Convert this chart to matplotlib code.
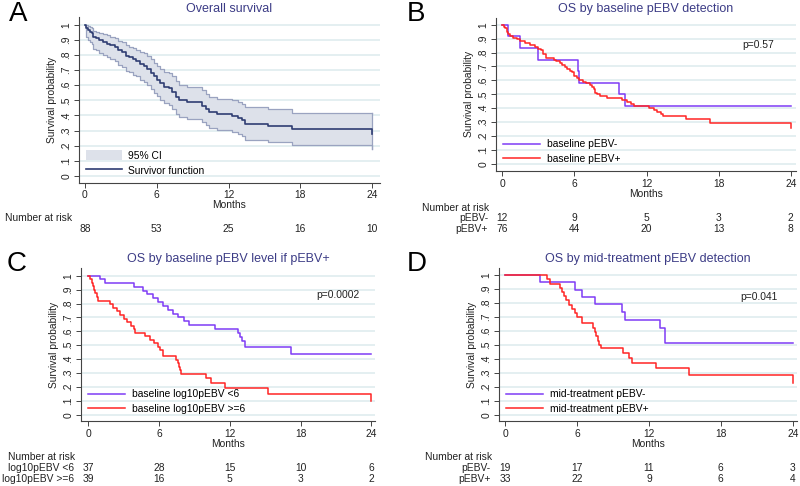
import matplotlib
matplotlib.use("Agg")
import matplotlib.pyplot as plt
from matplotlib.patches import Patch
from matplotlib.lines import Line2D
import matplotlib.transforms as mtransforms

plt.rcParams['font.family'] = ['Liberation Sans', 'DejaVu Sans']

# ---------------- DATA ----------------
# Panel A: overall survival (KM step values) with 95% CI
a_time = [0, 0.1, 0.25, 0.4, 0.55, 0.7, 0.9, 1.2, 1.5, 1.8, 2.1, 2.5, 2.8, 3.1, 3.4, 3.7, 4.0, 4.3, 4.6, 4.9,
          5.2, 5.5, 5.8, 6.0, 6.3, 6.6, 7.0, 7.3, 7.6, 7.9, 8.5, 9.8, 10.1, 10.4, 11.0, 12.3, 12.8, 13.1, 13.4,
          15.3, 17.3, 24.0]
a_surv = [1, .98, .966, .955, .943, .92, .909, .898, .886, .875, .864, .852, .83, .818, .795, .784, .773, .761, .739, .727,
          .705, .682, .659, .636, .614, .591, .58, .557, .523, .50, .488, .465, .443, .42, .409, .397, .384, .37, .346,
          .33, .31, .28]
a_lower = [1, .92, .90, .885, .87, .84, .83, .815, .80, .785, .77, .76, .735, .72, .695, .685, .67, .66, .635, .62,
           .60, .575, .55, .53, .505, .48, .47, .445, .41, .39, .38, .355, .335, .315, .305, .29, .28, .265, .24,
           .225, .207, .18]
a_upper = [1, .995, .99, .985, .978, .96, .955, .945, .94, .93, .92, .91, .895, .885, .865, .855, .845, .835, .82, .81,
           .79, .77, .75, .73, .71, .69, .68, .66, .625, .60, .59, .57, .545, .52, .51, .50, .49, .475, .455,
           .44, .418, .418]
a_risk = [88, 53, 25, 16, 10]

# Panel B: by baseline pEBV detection
b_neg_time = [0, 0.5, 1.5, 2.95, 6.3, 6.4, 9.75, 10.2, 24.0]
b_neg_surv = [1, .917, .833, .75, .667, .583, .5, .417, .417]
b_pos_time = [0, 0.1, 0.2, 0.35, 0.5, 0.6, 0.9, 1.2, 1.5, 1.9, 2.3, 2.7, 3.0, 3.2, 3.4, 3.6, 4.3, 4.5, 4.8, 5.0,
              5.2, 5.4, 5.6, 5.8, 6.0, 6.2, 6.4, 6.7, 7.0, 7.3, 7.5, 7.6, 7.75, 7.9, 8.1, 8.7, 10.0, 10.4, 10.7,
              11.0, 12.2, 12.6, 12.9, 13.2, 13.4, 15.3, 17.3, 24.0]
b_pos_surv = [1, .987, .974, .947, .934, .921, .908, .895, .882, .868, .855, .842, .829, .816, .789, .763, .75, .737, .724, .711,
              .697, .684, .671, .658, .632, .618, .605, .592, .579, .566, .553, .539, .513, .50, .486, .472, .458, .444, .43,
              .416, .402, .387, .372, .357, .342, .32, .297, .26]
b_risk_neg = [12, 9, 5, 3, 2]
b_risk_pos = [76, 44, 20, 13, 8]

# Panel C: by baseline pEBV level if pEBV+
c_low_time = [0, 0.95, 1.45, 3.85, 4.6, 5.0, 5.5, 5.9, 6.3, 6.8, 7.2, 7.6, 8.1, 8.5, 10.75, 12.7, 12.85, 13.05, 13.3, 17.2, 24.0]
c_low_surv = [1, .973, .946, .919, .892, .865, .838, .811, .781, .751, .722, .70, .676, .648, .618, .588, .559, .53, .485, .44, .44]
c_high_time = [0, 0.15, 0.3, 0.4, 0.5, 0.6, 0.7, 0.85, 1.8, 2.1, 2.4, 2.7, 3.0, 3.3, 3.6, 3.9, 4.0, 4.8, 5.2, 5.6,
               5.9, 6.1, 6.3, 7.4, 7.6, 7.7, 7.8, 7.9, 10.0, 10.4, 11.6, 15.2, 24.0]
c_high_surv = [1, .974, .949, .923, .897, .872, .846, .821, .795, .769, .744, .718, .692, .667, .641, .615, .59, .564, .538, .513,
               .487, .462, .423, .397, .372, .346, .321, .295, .266, .228, .19, .15, .10]
c_risk_low = [37, 28, 15, 10, 6]
c_risk_high = [39, 16, 5, 3, 2]

# Panel D: by mid-treatment pEBV detection
d_neg_time = [0, 2.9, 5.82, 6.4, 7.45, 9.75, 10.0, 12.9, 13.3, 24.0]
d_neg_surv = [1, .947, .895, .842, .789, .737, .68, .62, .515, .515]
d_pos_time = [0, 3.45, 3.7, 4.55, 4.7, 4.9, 5.1, 5.3, 5.6, 5.8, 6.0, 6.4, 7.35, 7.45, 7.55, 7.7, 7.85, 7.95,
              9.85, 10.3, 10.6, 12.6, 15.3, 24.0]
d_pos_surv = [1, .97, .939, .909, .879, .848, .818, .788, .758, .727, .697, .657, .621, .591, .56, .53, .50, .478,
              .442, .406, .37, .334, .287, .227]
d_risk_neg = [19, 17, 11, 6, 3]
d_risk_pos = [33, 22, 9, 6, 4]

xticks = [0, 6, 12, 18, 24]
yticks = [0, .1, .2, .3, .4, .5, .6, .7, .8, .9, 1]
ytick_labels = ['0', '.1', '.2', '.3', '.4', '.5', '.6', '.7', '.8', '.9', '1']

# ---------------- STYLE ----------------
NAVY = '#2f3d72'
BAND = '#dde1ea'
BAND_EDGE = '#9aa3c0'
PURPLE = '#7f3cf5'
RED = '#ff2525'
TITLE_C = '#3c3c86'
GRID_C = '#dcebee'
TXT = '#222222'
FS = 7.4

W, H = 800, 486
fig = plt.figure(figsize=(8, 4.86), dpi=100)


def add_panel(l, t, r, b, x0px, x24px, y0px, y1px):
    ax = fig.add_axes([l / W, 1 - b / H, (r - l) / W, (b - t) / H])
    sx = (x24px - x0px) / 24.0
    sy = (y0px - y1px)
    ax.set_xlim((l - x0px) / sx, (r - x0px) / sx)
    ax.set_ylim((y0px - b) / sy, (y0px - t) / sy)
    for s in ['top', 'right']:
        ax.spines[s].set_visible(False)
    for s in ['left', 'bottom']:
        ax.spines[s].set_color('#444444')
        ax.spines[s].set_linewidth(0.8)
    ax.set_xticks(xticks)
    ax.set_yticks(yticks)
    ax.set_yticklabels(ytick_labels, rotation=90, va='center')
    ax.tick_params(axis='both', labelsize=FS, colors='#444444', labelcolor=TXT, length=3.5, width=0.7, pad=2)
    ax.grid(axis='y', color=GRID_C, linewidth=1.1)
    ax.set_axisbelow(True)
    ax.set_xlabel('Months', fontsize=FS, color=TXT, labelpad=0)
    ax.set_ylabel('Survival probability', fontsize=FS, color=TXT, labelpad=3)
    ax.set_facecolor('white')
    return ax


def risk_table(ax, header_xpx, header_ypx, rows):
    fig.text(header_xpx / W, 1 - header_ypx / H, 'Number at risk', fontsize=FS, color=TXT,
             ha='left', va='center')
    tr = mtransforms.blended_transform_factory(ax.transData, fig.transFigure)
    for label, label_xpx, ypx, vals in rows:
        if label:
            fig.text(label_xpx / W, 1 - ypx / H, label, fontsize=FS, color=TXT, ha='right', va='center')
        for xv, v in zip(xticks, vals):
            ax.text(xv, 1 - ypx / H, str(v), transform=tr, fontsize=FS, color=TXT, ha='center', va='center')


# ---- Panel A ----
axA = add_panel(79, 17.5, 380, 182.7, 85, 372, 176, 24.7)
axA.fill_between(a_time, a_lower, a_upper, step='post', color=BAND, linewidth=0)
axA.step(a_time, a_lower, where='post', color=BAND_EDGE, lw=0.9)
axA.step(a_time, a_upper, where='post', color=BAND_EDGE, lw=0.9)
axA.plot([a_time[-1], a_time[-1]], [a_lower[-1], a_upper[-1]], color=BAND_EDGE, lw=0.9)
axA.step(a_time, a_surv, where='post', color=NAVY, lw=1.2)
axA.set_title('Overall survival', fontsize=9, color=TITLE_C, pad=4)
axA.legend(handles=[Patch(facecolor=BAND, edgecolor='none', label='95% CI'),
                    Line2D([], [], color=NAVY, lw=1.2, label='Survivor function')],
           loc='lower left', bbox_to_anchor=(0.0, 0.0), frameon=False, fontsize=FS,
           handlelength=3.5, handleheight=1.2, labelspacing=0.4, handletextpad=0.6, borderaxespad=0.3)
risk_table(axA, 5, 218, [(None, 0, 229, a_risk)])
fig.text(9 / W, 1 - 14 / H, 'A', fontsize=20, color='black', ha='left', va='center')

# ---- Panel B ----
axB = add_panel(496, 17.5, 796, 171, 502.3, 790.7, 164, 24.7)
axB.step(b_neg_time, b_neg_surv, where='post', color=PURPLE, lw=1.1)
axB.step(b_pos_time, b_pos_surv, where='post', color=RED, lw=1.1)
axB.set_title('OS by baseline pEBV detection', fontsize=9, color=TITLE_C, pad=4)
axB.text(19.95, 0.855, 'p=0.57', fontsize=FS, color=TXT, ha='left', va='center')
axB.legend(handles=[Line2D([], [], color=PURPLE, lw=1.1, label='baseline pEBV-'),
                    Line2D([], [], color=RED, lw=1.1, label='baseline pEBV+')],
           loc='lower left', bbox_to_anchor=(0.0, 0.0), frameon=False, fontsize=FS,
           handlelength=3.6, labelspacing=0.45, handletextpad=0.7, borderaxespad=0.3)
risk_table(axB, 422, 208, [('pEBV-', 488, 218, b_risk_neg), ('pEBV+', 488, 229, b_risk_pos)])
fig.text(407 / W, 1 - 14 / H, 'B', fontsize=20, color='black', ha='left', va='center')

# ---- Panel C ----
axC = add_panel(81, 268, 375, 421, 88.3, 371.3, 414.7, 275.7)
axC.step(c_low_time, c_low_surv, where='post', color=PURPLE, lw=1.1)
axC.step(c_high_time, c_high_surv, where='post', color=RED, lw=1.1)
axC.set_title('OS by baseline pEBV level if pEBV+', fontsize=9, color=TITLE_C, pad=4)
axC.text(19.3, 0.861, 'p=0.0002', fontsize=FS, color=TXT, ha='left', va='center')
axC.legend(handles=[Line2D([], [], color=PURPLE, lw=1.1, label='baseline log10pEBV <6'),
                    Line2D([], [], color=RED, lw=1.1, label='baseline log10pEBV >=6')],
           loc='lower left', bbox_to_anchor=(0.0, 0.0), frameon=False, fontsize=FS,
           handlelength=3.6, labelspacing=0.45, handletextpad=0.7, borderaxespad=0.3)
risk_table(axC, 8, 456.7, [('log10pEBV <6', 74, 468, c_risk_low), ('log10pEBV >=6', 74, 479, c_risk_high)])
fig.text(7 / W, 1 - 264 / H, 'C', fontsize=20, color='black', ha='left', va='center')

# ---- Panel D ----
axD = add_panel(499, 268, 797, 421, 505.3, 792.7, 414.7, 275)
axD.step(d_neg_time, d_neg_surv, where='post', color=PURPLE, lw=1.1)
axD.step(d_pos_time, d_pos_surv, where='post', color=RED, lw=1.1)
axD.set_title('OS by mid-treatment pEBV detection', fontsize=9, color=TITLE_C, pad=4)
axD.text(19.6, 0.845, 'p=0.041', fontsize=FS, color=TXT, ha='left', va='center')
axD.legend(handles=[Line2D([], [], color=PURPLE, lw=1.1, label='mid-treatment pEBV-'),
                    Line2D([], [], color=RED, lw=1.1, label='mid-treatment pEBV+')],
           loc='lower left', bbox_to_anchor=(0.0, 0.0), frameon=False, fontsize=FS,
           handlelength=3.6, labelspacing=0.45, handletextpad=0.7, borderaxespad=0.3)
risk_table(axD, 425, 456.7, [('pEBV-', 490.7, 468, d_risk_neg), ('pEBV+', 490.7, 479, d_risk_pos)])
fig.text(407 / W, 1 - 264 / H, 'D', fontsize=20, color='black', ha='left', va='center')

fig.savefig('out.png', dpi=100, facecolor='white')
